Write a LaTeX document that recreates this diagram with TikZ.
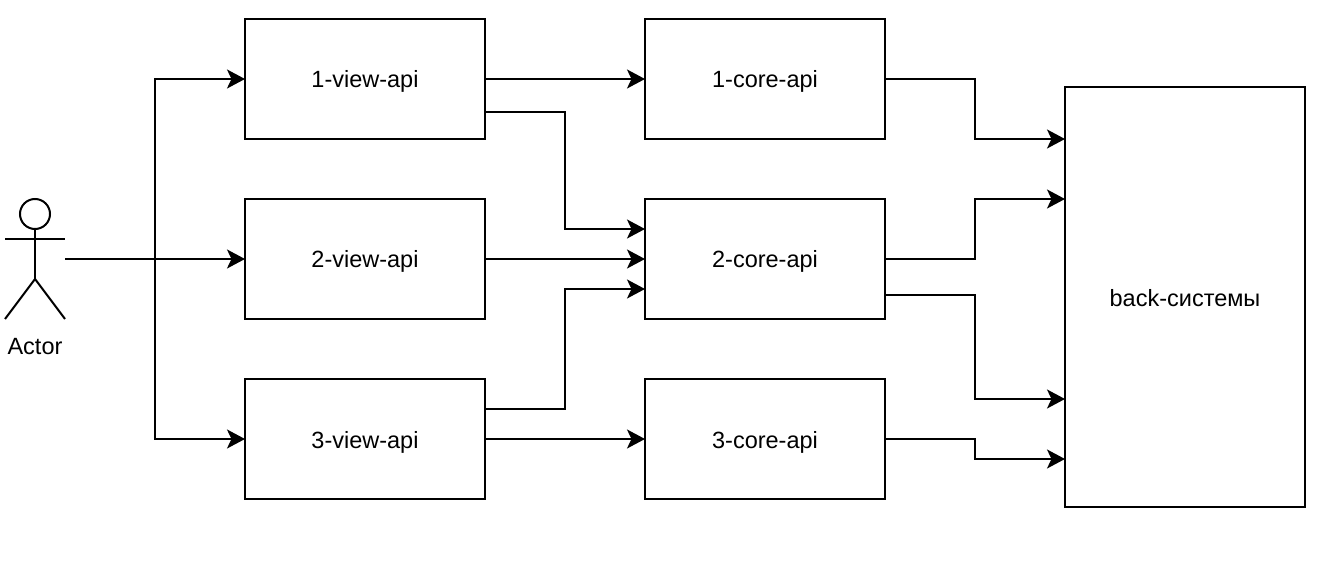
\documentclass[tikz,border=0pt]{standalone}
\usepackage{fontspec}
\setmainfont{Liberation Sans}
\usetikzlibrary{arrows.meta}

\begin{document}
\begin{tikzpicture}[
		x=1pt, y=-1pt,
		line width=2pt,
		>={Stealth[length=18pt, width=19pt, inset=4.5pt]},
		label text/.style={text height=20pt, text depth=2pt, font=\fontsize{23.5}{28}\selectfont},
		api/.style={draw, rectangle, minimum width=240pt, minimum height=120pt, align=center, outer sep=0pt, label text},
		link/.style={->, line join=miter},
	]
	\useasboundingbox (0,0) rectangle (1317,561);

	\node[api] (view1) at (365, 79) {1-view-api};
	\node[api] (view2) at (365, 259) {2-view-api};
	\node[api] (view3) at (365, 439) {3-view-api};
	\node[api] (core1) at (765, 79) {1-core-api};
	\node[api] (core2) at (765, 259) {2-core-api};
	\node[api] (core3) at (765, 439) {3-core-api};
	\node[api, minimum height=420pt] (back) at (1185, 297) {back-системы};

	% actor
	\node[draw, circle, minimum size=30pt, inner sep=0pt, outer sep=0pt] (head) at (35, 214) {};
	\coordinate (hip) at (35, 279);
	\coordinate (actor) at (65, 259);
	\coordinate (fork) at (155, 259);
	\draw (head.south) -- (hip);
	\draw (5, 239) -- (65, 239);
	\draw (5, 319) -- (hip) -- (65, 319);
	\node[label text] (actorlabel) at (35, 345) {Actor};

	\draw[link] (actor) -- (view2);
	\draw[link] (fork) |- (view1);
	\draw[link] (fork) |- (view3);

	\foreach \i/\j in {view1/core1, view2/core2, view3/core3}
		\draw[link] (\i) -- (\j);

	\draw[link] ([yshift=-33pt]view1.east) -- ++(80, 0) |- ([yshift=30pt]core2.west);
	\draw[link] ([yshift=30pt]view3.east) -- ++(80, 0) |- ([yshift=-30pt]core2.west);

	\draw[link] (core1.east) -- ++(90, 0) |- ([yshift=158pt]back.west);
	\draw[link] (core2.east) -- ++(90, 0) |- ([yshift=98pt]back.west);
	\draw[link] ([yshift=-36pt]core2.east) -- ++(90, 0) |- ([yshift=-102pt]back.west);
	\draw[link] (core3.east) -- ++(90, 0) |- ([yshift=-162pt]back.west);
\end{tikzpicture}
\end{document}
